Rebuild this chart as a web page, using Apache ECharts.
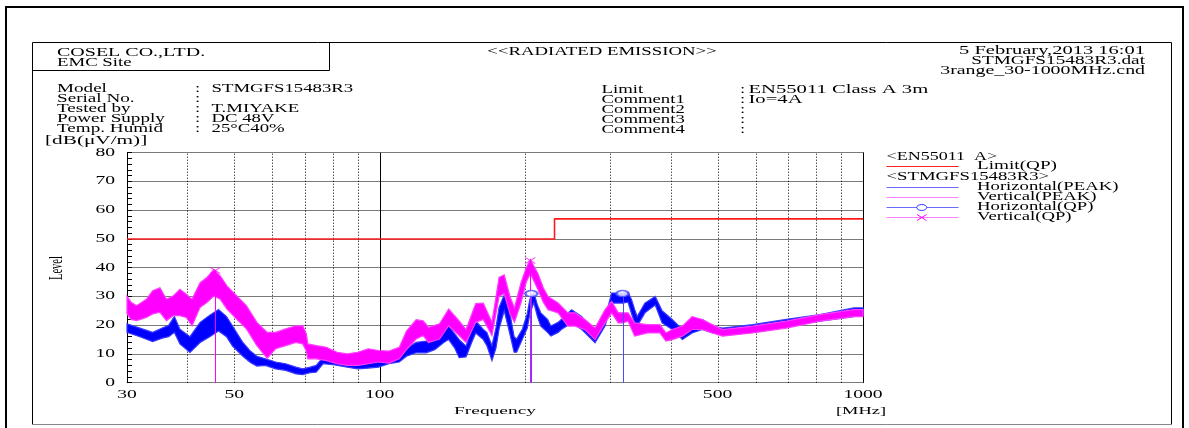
<!DOCTYPE html>
<html><head><meta charset="utf-8">
<script src="https://cdn.jsdelivr.net/npm/echarts/dist/echarts.min.js"></script>
<style>html,body{margin:0;padding:0;background:#fff}#c{width:1189px;height:428px}</style>
</head><body><div id="c"></div>
<script>
// ---- data ----
const blueFreq=[30,31.9,33.9,35.5,36.6,37.6,38.6,40.5,42.5,44.5,46.4,48.2,49.6,52.1,54,55.7,58,60.9,63.9,67.1,69.3,71.8,73.9,76.4,80.8,85.7,90.1,94.7,99.4,104.5,109.8,113.6,119,124.8,130,135.7,138.9,143,146,150.9,155,158,163.8,166.6,170.7,174,176.6,181,185.6,189.7,192,197.4,202,204.5,208.4,212,215.4,222.5,226,234,237.5,249.5,262,279,292.6,302,318,326.5,332,337,341,353.8,371.6,384,403,423,443,465,488,512,591,694,815,957,1000];
const blueLo=[17.5,16,14.3,15.5,16,17.5,13.5,10.5,14,16,18,16,12.7,9.2,7,5.8,6,4.8,4.3,3.1,2.8,3.5,3.7,6.6,6.2,5.4,4.8,5.1,5.4,6.6,7.2,9.2,10.4,10.4,11.5,14,15,12,8.7,9,14,17.3,15,12.9,7.7,12,18.7,25,17.5,10.6,10.6,15.2,19,24,27.9,23,19.7,17.5,16.2,17.5,18.5,20.8,18.5,13.9,19.7,27.7,27.7,28,24,20.8,19.7,24.3,27,20.8,18.5,15,17.3,18.5,17.3,16.8,18,19.7,21.4,23,23.7];
const blueHi=[20.5,19,17.5,19,20,23,18.6,16,21,23.5,25.5,23,19.7,14,11,9.2,8.3,7.2,6.6,5.4,4.8,5.4,6,8.9,8.2,7.7,7.2,7.2,7.7,8.9,9.5,12,14,14.5,16,18.7,19.8,17,15,12.7,19,21.5,18.5,17.5,12.9,19,26.2,30.5,25,16,15.2,18.7,24,29,31.4,27,24.3,22,19.7,21,22,25.4,23,17.3,22.5,31.2,31.2,31.5,28.9,25.4,23,27.7,30,25,22,18.5,20.8,22,19.7,19,20.2,22,23.7,26,26];

const magFreq=[30,30.6,31.4,32.9,33.9,35.1,36.2,37.4,38.6,39.8,40.9,42.5,43.9,45.4,46.8,48.3,50.6,53,55.7,58.5,60.9,63.9,67.1,69.3,70.5,71,73.9,77.6,81.6,85.7,90.1,94.7,99.4,104.5,109.8,113.6,119,123,126.2,133,138.9,146,150.9,158,163.8,170.7,176.6,181,186,190,196,201,205,212.5,218,223,234,245,253.5,265.7,279,292.6,302,311.6,318,326.5,337,358,380,391,403,423,443,465,488,512,591,694,815,957,1000];
const magLo=[24,22,21.6,22.7,23.9,24.5,21.6,23.3,23.3,22.7,19.8,26.2,27.9,30.2,29,25.6,22.1,18.7,12.9,8.5,11.8,12.9,14,13.5,11,8.3,8.3,7.7,6.6,6,6,6.6,7.2,6.8,8.3,11.5,15.2,16.4,14,15.2,19.8,16.4,14,21,22,16.4,30,31,24,21,27.7,35,38,32.4,28,25.4,24.3,19.7,19.7,18.5,15,20.8,24.3,20.8,20.8,21.4,16.2,17.3,17.3,14.5,15,16.2,18.5,18.5,17.3,16.2,17.3,19,21.4,23,23];
const magHi=[30,28,26.8,29,32,33,29,30.2,32.5,30.8,29,34.8,36.6,39.4,37.1,33.7,30.2,26.8,21,17.5,17.5,18.7,19.8,19.8,17,13.5,12.9,12.3,10.6,10,10.6,11.8,11.2,11,12.3,18,21.9,21.5,19.3,20.5,25.6,21.5,18.5,27.5,27.7,21,36.6,37.5,30,26,34.7,40,42.8,38,33,30,27.7,24.3,24.3,22,19,25.4,28.3,24.3,24.3,24.3,20.8,20.2,20.2,17.3,18.5,19.7,23,22,20.2,18.5,19.7,21.4,23.7,25.4,25.4];

const limitFreq=[30,230,230,1000];
const limitLevel=[50,50,57,57];

const hqpFreq=[206,318];
const hqpLevel=[31,31];
const vqpFreq=[45.7,205];
const vqpLevel=[39,42.5];

const dottedFreq=[40,50,60,70,80,90,200,300,400,500,600,700,800,900];
const solidFreq=[100];
const xTickLabels=[30,50,100,500,1000];
const yTickLabels=[0,10,20,30,40,50,60,70,80];

const infoLabels=["Model","Serial No.","Tested by","Power Supply","Temp. Humid"];
const infoValues=["STMGFS15483R3","","T.MIYAKE","DC 48V","25°C40%"];
const limLabels=["Limit","Comment1","Comment2","Comment3","Comment4"];
const limValues=["EN55011 Class A 3m","Io=4A","","",""];
const headerRight=["5 February,2013 16:01","STMGFS15483R3.dat","3range_30-1000MHz.cnd"];

// ---- chart ----
const BLUE='#0000ff', MAG='#ff00ff', RED='#ff1a1a';
const chart=echarts.init(document.getElementById('c'),null,{renderer:'canvas'});

function band(freq,lo,hi,fill,edge,z){
  return {type:'custom',coordinateSystem:'cartesian2d',z:z,silent:true,animation:false,
    data:freq.map((f,i)=>[f,lo[i],hi[i]]),encode:{x:0,y:[1,2]},
    renderItem:function(p,api){
      if(p.dataIndex!==0) return null;
      const top=freq.map((f,i)=>api.coord([f,hi[i]]));
      const bot=freq.map((f,i)=>api.coord([f,lo[i]])).reverse();
      return {type:'polygon',shape:{points:top.concat(bot)},style:{fill:fill,stroke:edge,lineWidth:1.2}};
    }};
}
function vlines(freq,top,color,dash,z){
  return {type:'custom',coordinateSystem:'cartesian2d',z:z,silent:true,animation:false,
    data:freq.map((f,i)=>[f,top[i]]),encode:{x:0,y:1},
    renderItem:function(p,api){
      const a=api.coord([api.value(0),0]),b=api.coord([api.value(0),api.value(1)]);
      const x=Math.round(a[0])+0.5;
      return {type:'line',shape:{x1:x,y1:a[1],x2:x,y2:b[1]},style:{stroke:color,lineWidth:1,lineDash:dash}};
    }};
}

chart.setOption({
  animation:false,
  backgroundColor:'#fff',
  grid:{left:127,right:326,top:152.7,bottom:45.3},
  xAxis:{type:'log',logBase:10,min:30,max:1000,
    axisLine:{show:true,onZero:false,lineStyle:{color:'#7a7a7a',width:1}},
    axisTick:{show:false},axisLabel:{show:false},splitLine:{show:false},minorTick:{show:false},minorSplitLine:{show:false}},
  yAxis:[{type:'value',min:0,max:80,interval:10,
    axisLine:{show:true,onZero:false,lineStyle:{color:'#000',width:1}},
    axisTick:{show:true,inside:true,length:5,lineStyle:{color:'#000'}},
    minorTick:{show:true,splitNumber:5,length:5,lineStyle:{color:'#000'}},
    axisLabel:{show:false},
    splitLine:{show:true,lineStyle:{color:'#7a7a7a',width:1}}},
   {type:'value',min:0,max:80,interval:10,position:'right',
    axisLine:{show:true,onZero:false,lineStyle:{color:'#000',width:1}},
    axisTick:{show:false},axisLabel:{show:false},splitLine:{show:false}}],
  series:[
    vlines(dottedFreq,dottedFreq.map(()=>80),'#000',[1,2],1),
    vlines(solidFreq,solidFreq.map(()=>80),'#000',null,1),
    {type:'line',z:2,silent:true,symbol:'none',data:limitFreq.map((f,i)=>[f,limitLevel[i]]),lineStyle:{color:RED,width:1.6}},
    band(blueFreq,blueLo,blueHi,BLUE,'#3a3aff',3),
    band(magFreq,magLo,magHi,MAG,'#ff3cff',4),
    vlines(vqpFreq,vqpLevel,MAG,null,5),
    vlines(hqpFreq,hqpLevel,'#4a4aff',null,5),
    {type:'scatter',z:6,silent:true,data:hqpFreq.map((f,i)=>[f,hqpLevel[i]]),symbol:'emptyCircle',symbolSize:[12,6],
      itemStyle:{color:'#4a4aff',borderColor:'#4a4aff',borderWidth:1}},
    {type:'scatter',z:6,silent:true,data:vqpFreq.map((f,i)=>[f,vqpLevel[i]]),symbol:'path://M0 0L10 10M10 0L0 10',symbolSize:[10,6],
      itemStyle:{color:'transparent',borderColor:MAG,borderWidth:1}}
  ]
});

// ---- graphic: frames, header, legend, tick labels ----
const FONT='"Liberation Serif"';
function T(x,y,s,size,sx,align,extra){
  return Object.assign({type:'text',x:x,y:y,scaleX:sx,scaleY:1,silent:true,z:50,
    style:{text:s,x:0,y:0,font:size+'px '+FONT,fill:'#000',align:align||'left',verticalAlign:'middle'}},extra||{});
}
function L(x1,y1,x2,y2,c,w){return {type:'line',silent:true,z:45,shape:{x1:x1,y1:y1,x2:x2,y2:y2},style:{stroke:c,lineWidth:w||1}};}

const g=[];
g.push({type:'rect',silent:true,z:40,shape:{x:6,y:7,width:1177,height:430},style:{fill:'none',stroke:'#000',lineWidth:2}});
g.push(L(32.5,42.5,1171.5,42.5,'#000'));
g.push(L(32.5,42.5,32.5,424.5,'#000'));
g.push(L(1171.5,42.5,1171.5,424.5,'#000'));
g.push(L(32.5,424.5,1171.5,424.5,'#888'));
g.push(L(32.5,70.5,329.5,70.5,'#000'));
g.push(L(329.5,42.5,329.5,70.5,'#000'));

const HS=12.5, HX=1.5;
g.push(T(57,53,'COSEL CO.,LTD.',HS,1.6));
g.push(T(57,62.5,'EMC Site',HS,HX));
g.push(T(602,51.5,'<<RADIATED EMISSION>>',HS,HX,'center'));
const hrScale=[1.64,1.54,1.59];
headerRight.forEach((s,i)=>g.push(T(1145,50.5+i*10.3,s,HS,hrScale[i],'right')));
infoLabels.forEach((s,i)=>{
  const y=88.5+i*10;
  g.push(T(57,y,s,HS,1.53));
  g.push(T(195,y,':',HS,HX));
  if(infoValues[i]) g.push(T(211.5,y,infoValues[i],HS,HX));
});
limLabels.forEach((s,i)=>{
  const y=90+i*10;
  g.push(T(601.5,y,s,HS,HX));
  g.push(T(740,y,':',HS,HX));
  if(limValues[i]) g.push(T(748.5,y,limValues[i],HS,1.65));
});

// axis titles
g.push(T(45,141,'[dB(μV/m)]',12.5,1.7));
g.push(T(57.5,268,'Level',10.5,1,'center',{rotation:Math.PI/2,scaleX:1,scaleY:1.7}));
g.push(T(495,411,'Frequency',10.5,1.85,'center'));
g.push(T(861,411,'[MHz]',10.5,1.75,'center'));

// tick labels via the chart's own scales
xTickLabels.forEach(v=>{
  const x=chart.convertToPixel({xAxisIndex:0},v);
  g.push(T(x,395,String(v),11.5,1.7,'center'));
});
yTickLabels.forEach(v=>{
  const y=chart.convertToPixel({yAxisIndex:0},v);
  g.push(T(115,y,String(v),11.5,1.7,'right'));
});

// legend
const LS=12, LX=1.56;
g.push(T(886.5,157,'<EN55011  A>',LS,1.5));
g.push(L(886.5,166.5,958.5,166.5,'#ff2020',1.2));
g.push(T(977,166,'Limit(QP)',LS,1.6));
g.push(T(886.5,177,'<STMGFS15483R3>',LS,LX));
g.push(L(886.5,187.5,958.5,187.5,'#6a6aff',1.2));
g.push(T(977,187,'Horizontal(PEAK)',LS,LX));
g.push(L(886.5,197.5,958.5,197.5,'#ff80ff',1.2));
g.push(T(977,197,'Vertical(PEAK)',LS,LX));
g.push(L(886.5,207.5,958.5,207.5,'#6a6aff',1.2));
g.push({type:'ellipse',silent:true,z:46,shape:{cx:921.7,cy:207.5,rx:5,ry:3},style:{fill:'#fff',stroke:'#3030ff',lineWidth:1}});
g.push(T(977,207,'Horizontal(QP)',LS,LX));
g.push(L(886.5,217.5,958.5,217.5,'#ff80ff',1.2));
g.push(L(917,214.5,926.5,220.5,MAG));
g.push(L(917,220.5,926.5,214.5,MAG));
g.push(T(977,217,'Vertical(QP)',LS,LX));

chart.setOption({graphic:g});
</script></body></html>
